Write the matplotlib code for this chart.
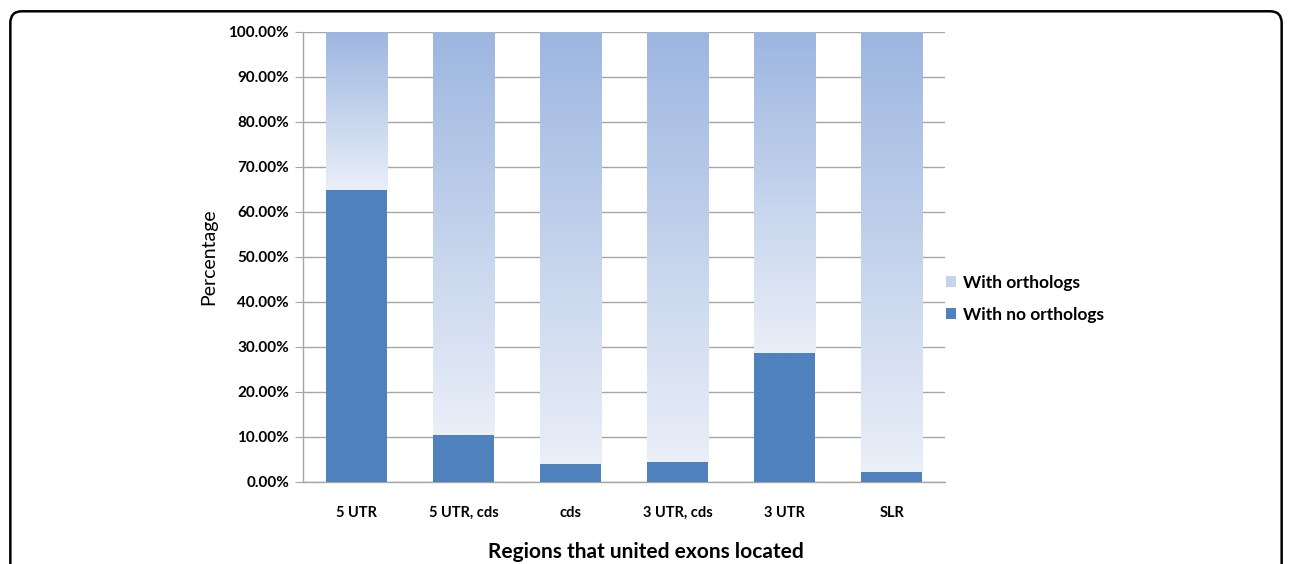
import numpy as np
import matplotlib.pyplot as plt
from matplotlib.patches import FancyBboxPatch
from matplotlib.colors import LinearSegmentedColormap
from matplotlib.ticker import FuncFormatter

categories = ["5 UTR", "5 UTR, cds", "cds", "3 UTR, cds", "3 UTR", "SLR"]
no_orthologs = [64.9, 10.4, 4.0, 4.4, 28.7, 2.2]
with_orthologs = [100 - v for v in no_orthologs]

plt.rcParams['font.family'] = ['Lato', 'DejaVu Sans']

fig = plt.figure(figsize=(12.92, 5.64), dpi=100)
ax = fig.add_axes([0.2345, 0.1454, 0.497, 0.798])

x = np.arange(len(categories))
width = 0.57
dark = "#4f81bd"
grad = LinearSegmentedColormap.from_list("g", ["#eaeff8", "#9db6e0"])

ax.bar(x, no_orthologs, width, color=dark, zorder=3, label="With no orthologs")
top_bars = ax.bar(x, with_orthologs, width, bottom=no_orthologs, color="none",
                  zorder=3, label="With orthologs")

# vertical gradient per upper segment (light at its bottom, darker at top)
gradient = np.linspace(0, 1, 256).reshape(-1, 1)
for patch in top_bars:
    x0, y0 = patch.get_x(), patch.get_y()
    w, h = patch.get_width(), patch.get_height()
    im = ax.imshow(gradient, cmap=grad, origin="lower", aspect="auto",
                   extent=[x0, x0 + w, y0, y0 + h], zorder=2.9)
    im.set_clip_path(patch)

ax.set_xlim(-0.5, len(categories) - 0.5)
ax.set_ylim(0, 100)
ax.set_yticks(np.arange(0, 101, 10))
ax.yaxis.set_major_formatter(FuncFormatter(lambda v, p: f"{v:.2f}%"))
ax.set_xticks(x)
ax.set_xticklabels(categories)

ax.grid(axis="y", color="#a6a6a6", linewidth=1, zorder=0)
for s in ["top", "right"]:
    ax.spines[s].set_visible(False)
for s in ["left", "bottom"]:
    ax.spines[s].set_color("#a6a6a6")
    ax.spines[s].set_linewidth(1)

ax.tick_params(axis="y", length=6, color="#a6a6a6", pad=4, labelsize=11)
ax.tick_params(axis="x", length=0, pad=17, labelsize=10.5)
for lab in ax.get_xticklabels() + ax.get_yticklabels():
    lab.set_fontweight("bold")

ax.set_ylabel("Percentage", fontsize=14, labelpad=8)
fig.text(0.5, 0.01, "Regions that united exons located", ha="center",
         fontsize=15, fontweight="bold")

handles, labels = ax.get_legend_handles_labels()
leg = fig.legend(handles[::-1], labels[::-1], loc="center left",
                 bbox_to_anchor=(0.72, 0.47), frameon=False,
                 prop={"weight": "bold", "size": 12.5}, handlelength=0.6,
                 handleheight=0.6, handletextpad=0.4, labelspacing=0.9)
leg.legend_handles[0].set_facecolor("#c5d3ed")

frame = FancyBboxPatch((0.008, -0.05), 0.984, 1.03, boxstyle="round,pad=0,rounding_size=0.009",
                       transform=fig.transFigure, fill=False, edgecolor="black",
                       linewidth=1.8, mutation_aspect=2.3)
fig.patches.append(frame)

fig.savefig("out.png", dpi=100)
